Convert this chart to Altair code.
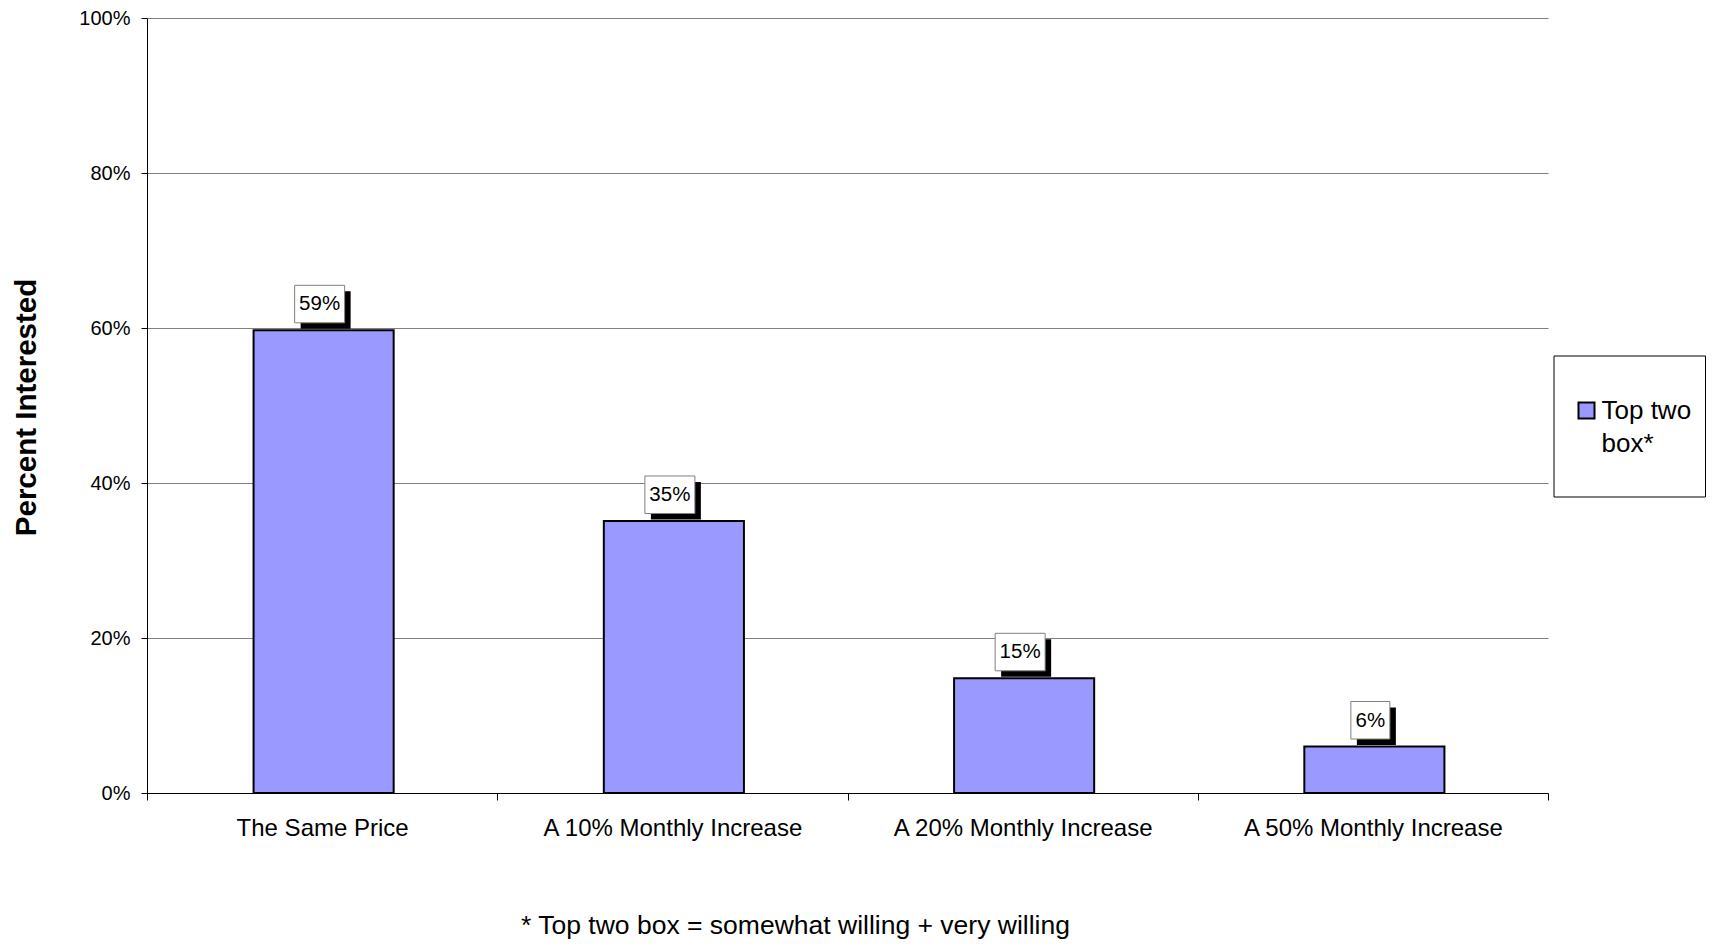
import altair as alt
import pandas as pd

categories = ["The Same Price", "A 10% Monthly Increase", "A 20% Monthly Increase", "A 50% Monthly Increase"]
values = [0.597, 0.351, 0.148, 0.060]
value_labels = ["59%", "35%", "15%", "6%"]
series_name = "Top two box*"
y_ticks = [0, 0.2, 0.4, 0.6, 0.8, 1.0]
y_title = "Percent Interested"
footnote = "* Top two box = somewhat willing + very willing"

FONT = "Liberation Sans"
BAR_FILL = "#9999FF"

df = pd.DataFrame({"category": categories, "value": values, "label": value_labels})

x_enc = alt.X(
    "category:N", sort=categories,
    scale=alt.Scale(paddingInner=0, paddingOuter=0),
    axis=alt.Axis(title=None, labelAngle=0, labelFontSize=24, labelColor="black",
                  labelPadding=16, labelFont=FONT, labelLimit=500, tickBand="extent",
                  tickSize=7, tickColor="black", domainColor="black", grid=False),
)
y_enc = alt.Y(
    "value:Q", scale=alt.Scale(domain=[0, 1], nice=False),
    axis=alt.Axis(values=y_ticks, format=".0%", title=y_title, titleFontSize=29.5,
                  titleFontWeight="bold", titleFont=FONT, titleColor="black",
                  titleX=-120.5, titleY=389, titleAngle=-90, titleAlign="center",
                  titleBaseline="middle", labelFontSize=20, labelColor="black",
                  labelPadding=11, labelFont=FONT, tickSize=6, tickColor="black",
                  domainColor="black", gridColor="#808080"),
)

base = alt.Chart(df)

bars = base.mark_bar(fill=BAR_FILL, stroke="black", strokeWidth=2, xOffset=1.5,
                     width=alt.RelativeBandSize(0.4)).encode(x=x_enc, y=y_enc)

boxbase = base.transform_calculate(bw="length(datum.label) * 11 + 17")
shadow = boxbase.mark_bar(fill="black", xOffset=3.5, yOffset=-1.5, y2Offset=-39).encode(
    x=x_enc, y=y_enc, y2=alt.Y2("value:Q"), size=alt.Size("bw:Q", scale=None, legend=None)
)
box = boxbase.mark_bar(fill="white", stroke="#808080", strokeWidth=1,
                       xOffset=-2.5, yOffset=-7.5, y2Offset=-45).encode(
    x=x_enc, y=y_enc, y2=alt.Y2("value:Q"), size=alt.Size("bw:Q", scale=None, legend=None)
)
text = base.mark_text(dx=-2.5, dy=-26, fontSize=20.5, font=FONT, baseline="middle",
                      color="black").encode(x=x_enc, y=y_enc, text="label:N")

leg_df = pd.DataFrame({"name": [series_name]})
legend_box = alt.Chart(leg_df).mark_rect(fill="white", stroke="black", strokeWidth=1).encode(
    x=alt.value(1407), x2=alt.value(1558.5), y=alt.value(338), y2=alt.value(479)
)
legend_sym = alt.Chart(leg_df).mark_rect(fill=BAR_FILL, stroke="black", strokeWidth=2).encode(
    x=alt.value(1431.5), x2=alt.value(1447.5), y=alt.value(384.5), y2=alt.value(400.5)
)
legend_text = alt.Chart(leg_df).transform_calculate(
    t="replace(datum.name, ' box', '\\nbox')"
).mark_text(align="left", baseline="alphabetic", fontSize=26, font=FONT, lineHeight=32.5,
            lineBreak="\n", color="black").encode(
    x=alt.value(1454.5), y=alt.value(401), text="t:N"
)

foot = alt.Chart(pd.DataFrame({"t": [footnote]})).mark_text(
    fontSize=26.5, font=FONT, baseline="alphabetic", align="center", color="black"
).encode(x=alt.value(648.5), y=alt.value(916), text="t:N")

chart = alt.layer(bars, shadow, box, text, legend_box, legend_sym, legend_text, foot).properties(
    width=1401, height=775,
    padding={"left": 139, "top": 10, "right": 158, "bottom": 147},
    autosize=alt.AutoSizeParams(type="none"),
    background="white",
).configure_view(strokeWidth=0)

chart.save("out.html", embed_options={"renderer": "svg", "actions": False})
